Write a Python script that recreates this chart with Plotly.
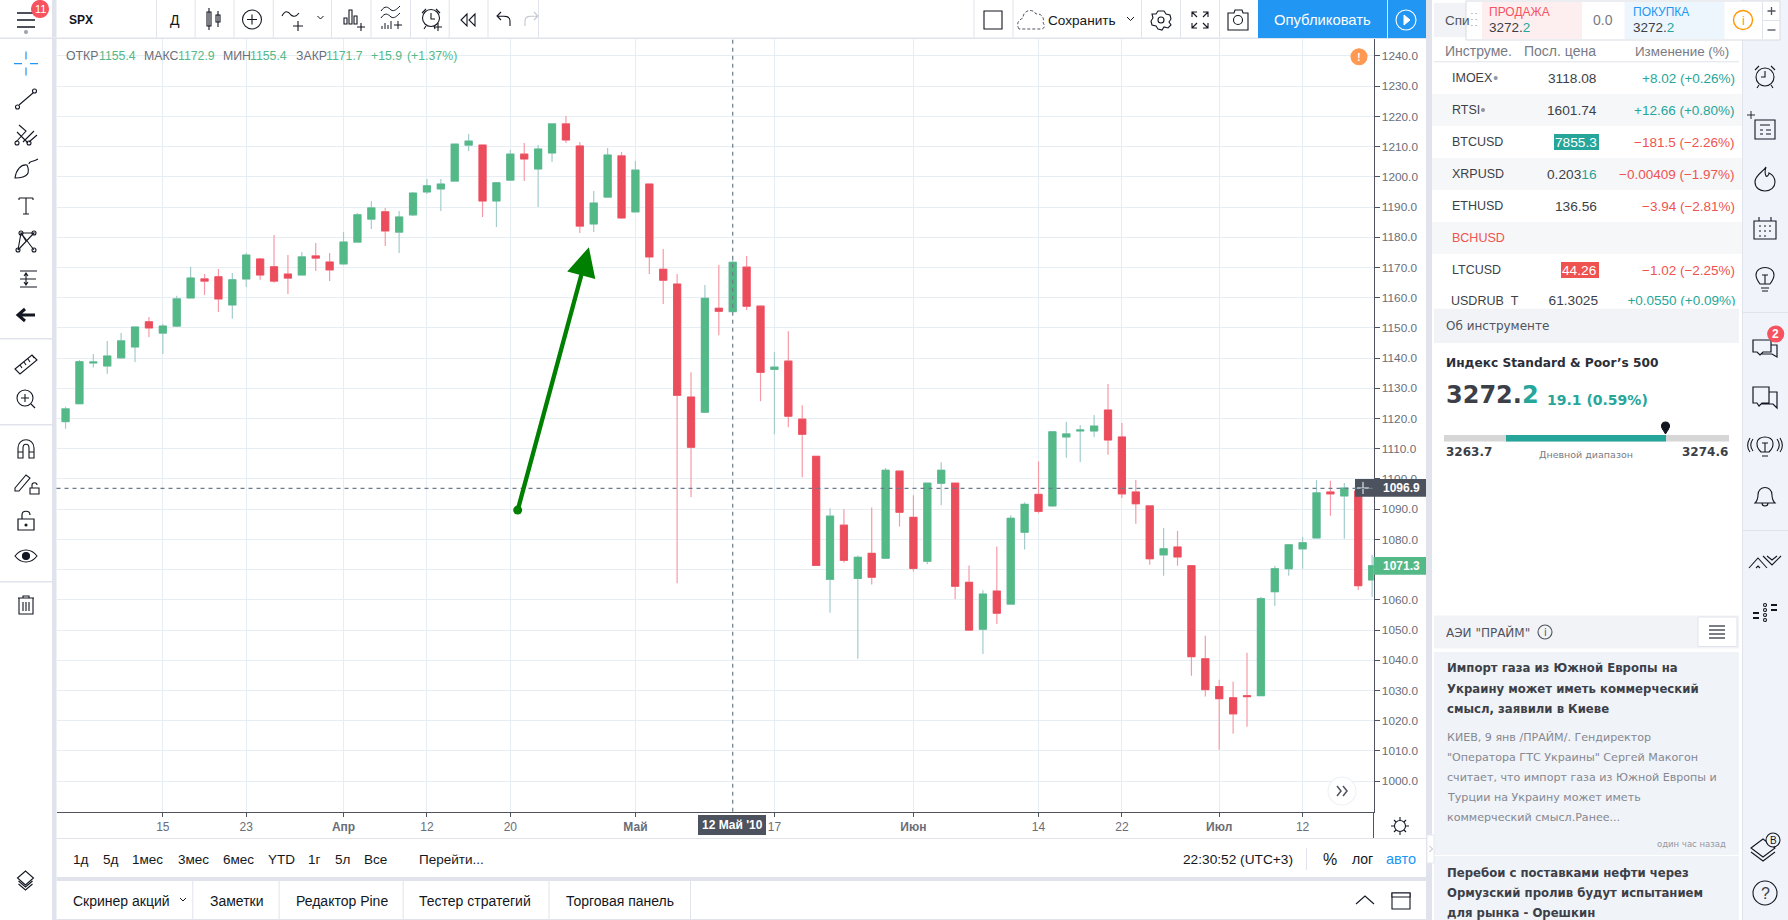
import re
import plotly.graph_objects as go

dates = [
    "2010-03-04", "2010-03-05", "2010-03-08", "2010-03-09", "2010-03-10", "2010-03-11", "2010-03-12", "2010-03-15",
    "2010-03-16", "2010-03-17", "2010-03-18", "2010-03-19", "2010-03-22", "2010-03-23", "2010-03-24", "2010-03-25",
    "2010-03-26", "2010-03-29", "2010-03-30", "2010-03-31", "2010-04-01", "2010-04-05", "2010-04-06", "2010-04-07",
    "2010-04-08", "2010-04-09", "2010-04-12", "2010-04-13", "2010-04-14", "2010-04-15", "2010-04-16", "2010-04-19",
    "2010-04-20", "2010-04-21", "2010-04-22", "2010-04-23", "2010-04-26", "2010-04-27", "2010-04-28", "2010-04-29",
    "2010-04-30", "2010-05-03", "2010-05-04", "2010-05-05", "2010-05-06", "2010-05-07", "2010-05-10", "2010-05-11",
    "2010-05-12", "2010-05-13", "2010-05-14", "2010-05-17", "2010-05-18", "2010-05-19", "2010-05-20", "2010-05-21",
    "2010-05-24", "2010-05-25", "2010-05-26", "2010-05-27", "2010-05-28", "2010-06-01", "2010-06-02", "2010-06-03",
    "2010-06-04", "2010-06-07", "2010-06-08", "2010-06-09", "2010-06-10", "2010-06-11", "2010-06-14", "2010-06-15",
    "2010-06-16", "2010-06-17", "2010-06-18", "2010-06-21", "2010-06-22", "2010-06-23", "2010-06-24", "2010-06-25",
    "2010-06-28", "2010-06-29", "2010-06-30", "2010-07-01", "2010-07-02", "2010-07-06", "2010-07-07", "2010-07-08",
    "2010-07-09", "2010-07-12", "2010-07-13", "2010-07-14", "2010-07-15", "2010-07-16", "2010-07-19",
]
opens = [
    1119.0, 1124.9, 1138.4, 1137.4, 1140.1, 1143.7, 1152.0, 1148.3, 1150.6, 1159.9, 1166.2, 1166.9, 1157.6, 1166.2,
    1172.8, 1170.2, 1167.8, 1167.5, 1173.8, 1171.8, 1171.2, 1178.4, 1186.0, 1188.4, 1181.7, 1187.4, 1195.0, 1196.0,
    1198.6, 1210.5, 1210.5, 1192.0, 1198.9, 1207.5, 1202.6, 1207.9, 1217.5, 1210.2, 1184.4, 1193.3, 1206.9, 1188.4,
    1197.6, 1169.4, 1164.5, 1127.1, 1122.1, 1156.5, 1155.4, 1170.1, 1157.2, 1136.3, 1139.0, 1119.8, 1107.5, 1066.8,
    1084.7, 1067.1, 1075.4, 1073.8, 1102.6, 1087.3, 1072.8, 1098.6, 1098.6, 1065.8, 1050.3, 1062.9, 1058.6, 1082.4,
    1094.9, 1091.1, 1113.9, 1115.9, 1115.9, 1122.8, 1113.9, 1095.7, 1091.1, 1074.9, 1077.5, 1071.3, 1040.5, 1031.3,
    1027.6, 1028.3, 1028.3, 1062.7, 1070.3, 1076.9, 1080.5, 1095.7, 1094.4, 1096.0, 1066.6,
]
highs = [
    1123.9, 1139.4, 1141.4, 1145.7, 1148.3, 1150.3, 1153.6, 1151.3, 1160.6, 1170.2, 1167.8, 1169.5, 1168.2, 1174.8,
    1173.1, 1180.7, 1174.1, 1175.1, 1178.1, 1174.8, 1181.7, 1188.0, 1192.0, 1189.7, 1188.7, 1195.0, 1199.3, 1199.3,
    1210.8, 1214.2, 1210.5, 1198.0, 1208.9, 1211.2, 1210.5, 1217.5, 1220.1, 1211.5, 1195.3, 1209.5, 1208.2, 1205.2,
    1197.6, 1176.1, 1167.8, 1135.3, 1164.2, 1170.8, 1172.9, 1173.8, 1157.2, 1142.0, 1148.9, 1124.4, 1107.5, 1090.3,
    1090.0, 1074.7, 1090.6, 1103.6, 1102.6, 1094.6, 1098.6, 1105.5, 1098.6, 1071.4, 1063.2, 1077.7, 1088.0, 1092.3,
    1105.9, 1115.6, 1118.9, 1117.9, 1121.2, 1131.4, 1118.5, 1099.7, 1091.1, 1083.8, 1082.8, 1071.3, 1048.1, 1033.6,
    1032.9, 1042.5, 1061.0, 1071.3, 1078.2, 1080.9, 1099.7, 1099.4, 1098.7, 1096.0, 1074.9,
]
lows = [
    1116.6, 1124.9, 1136.9, 1134.8, 1139.7, 1138.7, 1147.0, 1141.4, 1150.3, 1159.9, 1160.9, 1155.3, 1153.0, 1163.5,
    1165.9, 1164.9, 1161.2, 1167.5, 1168.8, 1165.5, 1170.8, 1178.4, 1182.7, 1177.1, 1174.8, 1187.0, 1194.3, 1188.7,
    1198.6, 1208.5, 1186.7, 1183.4, 1198.9, 1198.6, 1190.0, 1204.9, 1211.2, 1181.4, 1181.7, 1193.0, 1186.0, 1188.4,
    1167.8, 1157.9, 1065.5, 1094.0, 1122.1, 1147.6, 1155.4, 1155.9, 1125.7, 1114.8, 1117.1, 1100.6, 1071.4, 1055.7,
    1072.4, 1040.5, 1065.1, 1073.8, 1084.3, 1069.4, 1071.8, 1091.3, 1060.2, 1049.7, 1042.1, 1052.0, 1058.6, 1076.7,
    1088.7, 1090.8, 1107.0, 1105.6, 1113.9, 1108.0, 1093.7, 1085.2, 1071.6, 1068.0, 1071.3, 1034.9, 1028.0, 1010.4,
    1015.7, 1018.0, 1028.3, 1058.0, 1068.0, 1070.3, 1080.5, 1087.8, 1080.2, 1063.3, 1061.0,
]
closes = [
    1123.2, 1138.8, 1138.7, 1140.7, 1145.7, 1150.3, 1150.0, 1150.6, 1159.6, 1166.5, 1165.5, 1159.6, 1165.9, 1174.1,
    1167.5, 1165.5, 1166.5, 1173.5, 1173.1, 1169.2, 1178.4, 1187.4, 1189.7, 1182.1, 1186.7, 1194.6, 1197.0, 1197.6,
    1210.8, 1211.8, 1192.0, 1198.0, 1207.5, 1205.9, 1209.2, 1217.5, 1212.2, 1183.7, 1191.3, 1207.2, 1186.4, 1202.2,
    1173.5, 1165.8, 1127.7, 1110.5, 1159.8, 1155.5, 1171.7, 1157.2, 1135.3, 1137.0, 1120.8, 1114.8, 1071.4, 1087.7,
    1073.1, 1074.1, 1067.5, 1102.9, 1089.0, 1070.4, 1098.6, 1102.9, 1064.5, 1050.0, 1061.9, 1055.6, 1087.0, 1091.6,
    1089.3, 1115.6, 1114.9, 1116.2, 1117.5, 1112.9, 1095.1, 1091.8, 1073.6, 1076.9, 1074.2, 1041.2, 1030.3, 1027.3,
    1022.3, 1028.0, 1060.4, 1070.3, 1078.2, 1078.9, 1095.4, 1095.1, 1097.0, 1064.7, 1071.3,
]

price_ticks = [1000, 1010, 1020, 1030, 1040, 1050, 1060, 1070, 1080, 1090, 1100, 1110, 1120, 1130, 1140,
               1150, 1160, 1170, 1180, 1190, 1200, 1210, 1220, 1230, 1240]
time_tick_dates = ["2010-03-15", "2010-03-23", "2010-04-01", "2010-04-12", "2010-04-20", "2010-05-03",
                   "2010-05-17", "2010-06-01", "2010-06-14", "2010-06-22", "2010-07-01", "2010-07-12"]
time_tick_text = ["15", "23", "<b>Апр</b>", "12", "20", "<b>Май</b>", "17", "<b>Июн</b>", "14", "22", "<b>Июл</b>", "12"]

cross_date = "2010-05-12"
cross_price = 1096.9
last_price = 1071.3
arrow_start = (32.53, 1089.7)
arrow_tip = (37.65, 1176.7)

watch_names = ["IMOEX", "RTSI", "BTCUSD", "XRPUSD", "ETHUSD", "BCHUSD", "LTCUSD"]
watch_prices = ["3118.08", "1601.74", "7855.3", "0.20316", "136.56", "", "44.26"]
watch_changes = ["+8.02 (+0.26%)", "+12.66 (+0.80%)", "−181.5 (−2.26%)", "−0.00409 (−1.97%)", "−3.94 (−2.81%)", "", "−1.02 (−2.25%)"]
clipped_row = ["USDRUB_T", "61.3025", "+0.0550 (+0.09%)"]

NARROW = "Liberation Sans, Arial"
WIDE = "DejaVu Sans, Verdana"
INK = "#131722"
GRAY = "#787b86"
LINE = "#e0e3eb"
GREEN = "#26a69a"
RED = "#ef5350"
UP = "#53b987"
DOWN = "#eb4d5c"
PANEL = "#f1f3f6"

shapes = []
notes = []


def box(x0, y0, x1, y1, fill, line=None, w=1):
    shapes.append(dict(type="rect", xref="x2", yref="y2", x0=x0, y0=y0, x1=x1, y1=y1, fillcolor=fill,
                       line=dict(color=line or fill, width=w if line else 0), layer="above"))


def circ(cx, cy, r, line=INK, fill="rgba(0,0,0,0)", w=1.1):
    shapes.append(dict(type="circle", xref="x2", yref="y2", x0=cx - r, y0=cy - r, x1=cx + r, y1=cy + r,
                       fillcolor=fill, line=dict(color=line, width=w), layer="above"))


def ic(cx, cy, d, color=INK, w=1.1, fill="rgba(0,0,0,0)", dash="solid"):
    # move a small path drawn around 0,0 to its place on the page
    out, n = [], 0
    for tok in re.findall(r"[MLCQZ]|-?[\d.]+", d):
        if tok.isalpha():
            out.append(tok)
        else:
            out.append(str(float(tok) + (cx if n % 2 == 0 else cy)))
            n += 1
    shapes.append(dict(type="path", xref="x2", yref="y2", path=" ".join(out), fillcolor=fill,
                       line=dict(color=color, width=w, dash=dash), layer="above"))


def txt(x, y, s, size=12, color=INK, anchor="left", font=NARROW):
    notes.append(dict(xref="x2", yref="y2", x=x, y=y, text=s, showarrow=False, xanchor=anchor, yanchor="middle",
                      borderpad=0, font=dict(family=font, size=size, color=color)))


# chart frame, gaps between the panels
box(0, 37.5, 1426, 39, LINE)
box(52, 39, 56.5, 920, LINE)
box(0, 338, 52, 339.5, LINE)
box(0, 424, 52, 425.5, LINE)
box(0, 581, 52, 582.5, LINE)
box(56.5, 838, 1426, 839, LINE)
box(56.5, 877, 1426, 881, LINE)
box(56.5, 919, 1426, 920, LINE)
box(1426, 0, 1432, 920, LINE)
box(1742.5, 0, 1788, 920, "#f0f3fa")
box(1742, 0, 1743, 920, LINE)
box(1743, 312, 1788, 313, LINE)
box(1743, 530, 1788, 531, LINE)

# top toolbar
for sx in [156, 194.6, 233.5, 272.8, 331, 370.5, 410, 448.7, 487.5, 538, 973.5, 1012.5, 1141, 1180, 1219]:
    box(sx, 0, sx + 1, 37.5, LINE)
box(52, 0, 56.5, 37.5, LINE)
ic(26, 20, "M-9 -7 L9 -7 M-9 0 L9 0 M-9 7 L9 7", w=1.6)
circ(40, 9, 8.5, "#f7525f", "#f7525f")
txt(40, 9, "11", 11, "white", "center")
circ(26, 32, 1.5, "#a0a3ad", "#a0a3ad")
txt(68, 19.5, "<b>SPX</b>", 12)
txt(175, 20, "Д", 14, INK, "center")
ic(214, 19, "M-5 -11 L-5 11 M4 -8 L4 8 M-7 -7 L-3 -7 L-3 7 L-7 7 Z M2 -4 L6 -4 L6 3 L2 3 Z")
circ(252, 19.5, 9.5)
ic(252, 19.5, "M-5 0 L5 0 M0 -5 L0 5")
ic(291, 19, "M-9 -3 C-6 -9 -3 -8 0 -4 C2 -2 5 -2 8 -6 M2 7 L12 7 M7 2 L7 12")
ic(320.5, 18, "M-3 -2 L0 1 L3 -2", w=1)
ic(353, 19, "M-9 5 L-9 -1 L-6 -1 L-6 5 Z M-4 5 L-4 -9 L-1 -9 L-1 5 Z M1 5 L1 -3 L4 -3 L4 5 Z M4 8 L12 8 M8 4 L8 12")
ic(391, 17, "M-10 -6 C-6 -12 -3 -10 0 -7 C3 -5 6 -8 9 -11 M-10 1 C-6 -5 -3 -3 0 0 C3 2 6 -1 9 -4 M-9 12 L-9 9 M-6 12 L-6 6 M-3 12 L-3 8 M0 12 L0 4 M3 8 L11 8 M7 4 L7 12", w=1)
circ(431, 18, 8.5)
ic(431, 18, "M0 -5 L0 1 L4 1 M-9 -5 L-5 -9 M9 -5 L5 -9 M-5 8 L-7 11 M3 8 L4 11 M3 9 L11 9 M7 5 L7 13")
ic(468, 20, "M-1 -6 L-7 0 L-1 6 Z M7 -6 L1 0 L7 6 Z")
ic(504, 19, "M6 7 L6 2 C6 -3 2 -3 -6 -3 M-3 -7 L-7 -3 L-3 1")
ic(531, 19, "M-6 7 L-6 2 C-6 -3 -2 -3 6 -3 M3 -7 L7 -3 L3 1", "#c5c8d0")

box(984, 11, 1002, 29, "white", INK, 1.1)
ic(1031, 20, "M-12 9 C-16 2 -10 -1 -8 -2 C-8 -10 2 -12 5 -6 C10 -7 14 -2 12 3 C14 5 14 8 11 9 Z", "#50535e", 1, dash="3px,2px")
txt(1047, 20, "Сохранить", 13.6)
ic(1130.5, 19, "M-3.5 -2 L0 1.5 L3.5 -2", w=1)
circ(1161, 20, 3)
ic(1161, 20, "M-3 -9 L3 -9 L5 -6 L9 -5 L10 -1 L8 2 L10 5 L7 8 L3 7 L1 10 L-3 9 L-5 6 L-9 5 L-10 1 L-8 -2 L-9 -6 L-5 -6 Z")
ic(1200, 20, "M-8 -3 L-8 -8 L-3 -8 M-8 -8 L-3 -3 M3 -8 L8 -8 L8 -3 M8 -8 L3 -3 M-8 3 L-8 8 L-3 8 M-8 8 L-3 3 M3 8 L8 8 L8 3 M8 8 L3 3")
ic(1238, 20, "M-10 -7 L-4 -7 L-3 -10 L4 -10 L5 -7 L10 -7 L10 10 L-10 10 Z")
circ(1238, 20, 4.5)
box(1258, 0, 1426, 38, "#2196f3")
box(1387, 0, 1388, 38, "#d3e9fc")
txt(1322.5, 20, "Опубликовать", 14.8, "white", "center")
circ(1406, 20, 10, "white")
ic(1406, 20, "M-2 -5 L4 0 L-2 5 Z", "white", 1, "white")

# left toolbar
ic(26, 63.6, "M-12 0 L-4 0 M4 0 L12 0 M0 -12 L0 -4 M0 4 L0 12", "#2196f3", 1.2)
ic(26, 99, "M-7 6 L7 -6")
circ(17.5, 107, 2)
circ(34.5, 91, 2)
ic(26, 135, "M-10 7 L0 -4 L-7 -10 M-9 -3 L2 8 M-3 7 L8 -4 M3 7 L11 0")
circ(17, 143, 2)
circ(29, 143, 2)
ic(26, 170, "M-11 8 C-10 0 -5 -6 1 -5 C4 2 3 8 -11 8 Z M3 -6 C3 -10 6 -7 12 -11")
ic(26, 206, "M-7 -8 L7 -8 M0 -8 L0 8 M-3 8 L3 8 M-7 -8 L-7 -6 M7 -8 L7 -6")
ic(26, 241, "M-8 9 L-5 -8 L8 9 M-8 9 L8 -8 L-5 -8 M-5 -8 L0 0")
circ(18, 250, 2)
circ(21, 233, 2)
circ(34, 233, 2)
circ(34, 250, 2)
ic(26, 279, "M-6 -8 L11 -8 M-6 0 L10 0 M-6 8 L11 8 M0 -6 L0 6 M-2 -3 L0 -6 L2 -3 M-2 3 L0 6 L2 3")
ic(26, 315, "M9 0 L-6 0 M-1 -6 L-8 0 L-1 6", INK, 3)
ic(26, 364, "M-11 5 L6 -9 L11 -4 L-6 10 Z M-6 1 L-4 4 M-2 -2 L0 1 M2 -5 L4 -2 M6 -9 L8 -6")
circ(25, 398, 8)
ic(25, 398, "M-4 0 L4 0 M0 -4 L0 4 M6 6 L10 10")
ic(26, 449, "M-8 9 L-8 -1 C-8 -12 8 -12 8 -1 L8 9 L3 9 L3 -1 C3 -6 -3 -6 -3 -1 L-3 9 Z M-8 3 L-3 3 M3 3 L8 3")
ic(23, 482, "M-8 6 L3 -7 L7 -4 L-4 9 L-8 9 Z")
ic(34, 488, "M-4 0 L5 0 L5 6 L-4 6 Z M-2 0 L-2 -3 C-2 -6 3 -6 3 -3")
ic(26, 521, "M-8 -2 L8 -2 L8 9 L-8 9 Z M-4 -2 L-4 -6 C-4 -11 4 -11 4 -6", w=1.2)
circ(26, 525, 1, INK, INK)
ic(26, 556, "M-11 0 C-5 -8 5 -8 11 0 C5 8 -5 8 -11 0 Z")
circ(26, 556, 3.5, INK, INK)
ic(26, 605, "M-8 -7 L8 -7 M-3 -7 L-3 -9 L3 -9 L3 -7 M-7 -7 L-7 9 L7 9 L7 -7 M-3 -3 L-3 6 M0 -3 L0 6 M3 -3 L3 6")
ic(25.5, 880, "M-8 -2 L0 -9 L8 -2 L0 5 Z M-7 1 L0 7 L7 1 M-7 4 L0 10 L7 4")

# legend over the chart
txt(65, 56, "ОТКР", 12.3, "#6a6d78")
txt(98, 56, "1155.4", 12.3, UP)
txt(143, 56, "МАКС", 12.3, "#6a6d78")
txt(177, 56, "1172.9", 12.3, UP)
txt(222, 56, "МИН", 12.3, "#6a6d78")
txt(249, 56, "1155.4", 12.3, UP)
txt(294.6, 56, "ЗАКР", 12.3, "#6a6d78")
txt(325, 56, "1171.7", 12.3, UP)
txt(369.6, 56, "+15.9", 12.3, UP)
txt(406, 56, "(+1.37%)", 12.3, UP)
circ(1359, 56.7, 8, "#ff9850", "#ff9850")
txt(1359, 56.7, "<b>!</b>", 11, "white", "center")
circ(1342, 791, 14, "#eef0f4", "white")
ic(1342, 791, "M-5 -5 L-1 0 L-5 5 M1 -5 L5 0 L1 5", "#50535e", 1.5)

# price and time labels
box(1355, 479, 1426, 496.7, "#4c525e")
ic(1363, 488, "M-6 0 L6 0 M0 -6 L0 6", "white", 1)
txt(1382, 488, "<b>1096.9</b>", 12, "white")
box(1373.5, 557, 1426, 574.7, UP)
txt(1382, 566, "<b>1071.3</b>", 12, "white")
box(698, 815, 766, 835, "#4c525e")
txt(732.5, 825, "<b>12 Май '10</b>", 12, "white", "center")
box(1373, 812, 1374, 838, "#50535e")
circ(1400, 826, 5.5, INK)
ic(1400, 826, "M-9 0 L-6 0 M6 0 L9 0 M0 -9 L0 -6 M0 6 L0 9 M-6 -6 L-4 -4 M6 -6 L4 -4 M-6 6 L-4 4 M6 6 L4 4")

# range bar
for rx, rs in zip([71.5, 101.5, 131, 177, 222, 267, 307, 334, 363, 418],
                  ["1д", "5д", "1мес", "3мес", "6мес", "YTD", "1г", "5л", "Все", "Перейти..."]):
    txt(rx, 859, rs, 13.5)
txt(1181.6, 859, "22:30:52 (UTC+3)", 13.7)
box(1306, 848, 1307, 870, LINE)
txt(1330, 859, "%", 16, INK, "center")
txt(1362.5, 859, "лог", 14, INK, "center")
txt(1400.8, 859, "авто", 14.5, "#2196f3", "center")

# bottom tabs
for tx, ts in zip([72, 209, 295.4, 418, 565],
                  ["Скринер акций", "Заметки", "Редактор Pine", "Тестер стратегий", "Торговая панель"]):
    txt(tx, 900.7, ts, 14)
for sx in [192.3, 278.6, 402.6, 548.5, 690]:
    box(sx, 881, sx + 1, 919, LINE)
ic(183, 900, "M-3 -2 L0 1 L3 -2", w=1)
ic(1365, 900, "M-9 4 L0 -4 L9 4", w=1.1)
box(1392, 893, 1410, 909, "white", INK, 1.1)
box(1392, 893, 1410, 897, "white", INK, 1.1)

# watchlist
box(1434, 3, 1739, 37, PANEL)
txt(1443.5, 20, "Спи", 13.5, "#50535e")
txt(1444, 51, "Инструме.", 14, GRAY)
txt(1523, 51, "Посл. цена", 14, GRAY)
txt(1730, 51, "Изменение (%)", 13.4, GRAY, "right")
box(1434, 61.3, 1739, 62.3, LINE)
for i, name in enumerate(watch_names):
    ry = 78 + 32 * i
    if i % 2 == 1:
        box(1432, ry - 16, 1742, ry + 16, "#f6f7f9")
for i, name in enumerate(watch_names):
    ry = 78 + 32 * i
    txt(1451, ry, name, 12.5, RED if name == "BCHUSD" else "#3c3f48")
    if name == "BTCUSD":
        box(1554, ry - 8, 1599, ry + 8, GREEN)
    if name == "LTCUSD":
        box(1561, ry - 8, 1599, ry + 8, RED)
    pcolor = "white" if name in ("BTCUSD", "LTCUSD") else "#3c3f48"
    ptext = watch_prices[i]
    if name == "XRPUSD":
        ptext = ptext[:-2] + f"<span style='color:{GREEN}'>{ptext[-2:]}</span>"
    txt(1598, ry, ptext, 13.7, pcolor, "right")
    ccolor = GREEN if watch_changes[i].startswith("+") else RED
    txt(1735.5, ry, watch_changes[i], 13.5, ccolor, "right")
circ(1495.7, 78, 1.5, "#9598a1", "#9598a1")
circ(1483, 110, 1.5, "#9598a1", "#9598a1")

# the clipped last row is covered by the panel under it
box(1432, 305.7, 1742, 309, "white")
box(1434, 308.7, 1739, 343, PANEL)

# floating buy/sell widget
box(1466, 1, 1780, 40, "white", "#d8dbe2", 1)
box(1482, 2, 1582, 39, "#fdeff0")
box(1624.5, 2, 1724.4, 39, "#eef6fd")
ic(1474, 20, "M-2 -7 L-2 -6 M2 -7 L2 -6 M-2 -1 L-2 0 M2 -1 L2 0 M-2 5 L-2 6 M2 5 L2 6", "#b2b5be", 1.6)
txt(1488, 12, "ПРОДАЖА", 12, "#f7525f")
txt(1488, 27.5, "3272.<span style='color:%s'>2</span>" % GREEN, 13.5, "#3c3f48")
txt(1603, 20, "0.0", 14, GRAY, "center")
txt(1632, 12, "ПОКУПКА", 12, "#2196f3")
txt(1632, 27.5, "3272.<span style='color:%s'>2</span>" % GREEN, 13.5, "#3c3f48")
circ(1743, 20, 9.5, "#ff9800", "white", 1.4)
txt(1743, 20, "i", 13, "#ff9800", "center")
box(1762, 2, 1763, 39, LINE)
ic(1771.5, 11, "M-4 0 L4 0 M0 -4 L0 4", "#50535e", 1.3)
ic(1771.5, 30, "M-4 0 L4 0", "#50535e", 1.3)
box(1763, 20, 1780, 21, LINE)

# symbol panel
txt(1445, 326, "Об инструменте", 12, "#50535e", font=WIDE)
txt(1445, 363, "<b>Индекс Standard & Poor’s 500</b>", 12.2, "#2a2e39", font=WIDE)
txt(1445, 395, "<b>3272.<span style='color:%s'>2</span></b>" % GREEN, 24, "#3c3f48", font=WIDE)
txt(1546, 399.5, "<b>19.1 (0.59%)</b>", 14, GREEN, font=WIDE)
box(1444, 435, 1729, 441.5, "#d6d6d6")
box(1506, 435, 1666, 441.5, GREEN)
circ(1665.5, 426, 4, "#131722", "#131722")
ic(1665.5, 429, "M-3 0 L0 5 L3 0 Z", "#131722", 1, "#131722")
txt(1445, 452, "<b>3263.7</b>", 12, "#3c3f48", font=WIDE)
txt(1586, 454, "Дневной диапазон", 9.5, GRAY, "center", font=WIDE)
txt(1729, 452, "<b>3274.6</b>", 12, "#3c3f48", "right", font=WIDE)

# news feed
box(1434, 615.5, 1739, 648.5, PANEL)
txt(1445, 632, "АЭИ \"ПРАЙМ\"", 12, "#50535e", font=WIDE)
circ(1545, 632, 7, "#50535e")
txt(1545, 632, "i", 10, "#50535e", "center", font=WIDE)
box(1698, 617, 1737, 646.5, "white", LINE, 1)
ic(1717, 632, "M-8 -6 L8 -6 M-8 -2 L8 -2 M-8 2 L8 2 M-8 6 L8 6", "#50535e", 1.4)
box(1434, 652, 1739, 855, "#f0f3f7")
box(1434, 856, 1739, 920, "#f0f3f7")
for ny, ns in zip([668, 688.6, 708.5], ["Импорт газа из Южной Европы на", "Украину может иметь коммерческий", "смысл, заявили в Киеве"]):
    txt(1446, ny, f"<b>{ns}</b>", 11.7, "#3c3f48", font=WIDE)
for ny, ns in zip([737, 757, 777, 797, 817],
                  ["КИЕВ, 9 янв /ПРАЙМ/. Гендиректор", "\"Оператора ГТС Украины\" Сергей Макогон",
                   "считает, что импорт газа из Южной Европы и", "Турции на Украину может иметь",
                   "коммерческий смысл.Ранее..."]):
    txt(1446, ny, ns, 11.1, "#858892", font=WIDE)
txt(1727, 844, "один час назад", 8.5, "#9598a1", "right", font=WIDE)
for ny, ns in zip([872.6, 892.6, 912.6], ["Перебои с поставками нефти через", "Ормузский пролив будут испытанием", "для рынка - Орешкин"]):
    txt(1446, ny, f"<b>{ns}</b>", 11.7, "#3c3f48", font=WIDE)
box(1427, 835, 1434, 863, "white", "#e6e8ee", 1)
ic(1431, 849, "M-1.5 -3 L1.5 0 L-1.5 3", "#b2b5be", 1)

# right icon column
circ(1765, 77, 9)
ic(1765, 77, "M0 -6 L0 0 L-4 0 M-10 -7 L-6 -11 M10 -7 L6 -11 M-6 8 L-8 11 M6 8 L8 11")
ic(1765, 128, "M-10 -8 L10 -8 L10 11 L-10 11 Z M-5 -3 L5 -3 M-5 2 L-2 2 M1 2 L6 2 M-5 6 L-2 6 M1 6 L6 6")
ic(1751, 115, "M-4 0 L4 0 M0 -4 L0 4", w=0.9)
ic(1765, 179, "M1 -12 C-2 -7 -10 -4 -10 3 C-10 9 -5 12 0 12 C6 12 10 8 10 3 C10 -3 6 -5 4 -6 C4 -4 2 -2 1 -3 C0 -5 0 -9 1 -12 Z")
ic(1765, 228, "M-11 -7 L11 -7 L11 11 L-11 11 Z M-6 -11 L-6 -7 M6 -11 L6 -7 M-6 -2 L-4 -2 M-1 -2 L1 -2 M4 -2 L6 -2 M-6 3 L-4 3 M-1 3 L1 3 M4 3 L6 3 M-6 8 L-4 8 M-1 8 L1 8")
ic(1765, 278, "M-5 6 C-8 2 -9 0 -9 -3 C-9 -13 9 -13 9 -3 C9 0 8 2 5 6 Z M-4 10 L4 10 M-3 13 L3 13 M0 6 L0 -3 M-3 -3 L3 -3")
chat = "M-12 -6 L6 -6 L6 6 L-2 6 L-5 9 L-8 6 L-12 6 Z M6 -1 L12 -1 L12 11 L7 8 L-4 8"
ic(1765, 346, chat, w=1.2)
circ(1775.7, 334, 8, "#f7525f", "#f7525f")
txt(1775.7, 334, "<b>2</b>", 12, "white", "center")
ic(1765, 396, "M-12 -9 L4 -9 L4 7 L-3 7 L-6 10 L-8 7 L-12 7 Z M4 -4 L12 -4 L12 12 L8 8 L-4 8", w=1.2)
ic(1765, 446, "M-4 6 C-8 2 -8 0 -8 -3 C-8 -11 8 -11 8 -3 C8 0 8 2 4 6 Z M-3 10 L3 10 M0 6 L0 -3 M-3 -3 L3 -3 M-12 -7 C-15 -3 -15 1 -12 5 M12 -7 C15 -3 15 1 12 5 M-15 -8 C-18 -3 -18 2 -15 6 M15 -8 C18 -3 18 2 15 6")
ic(1765, 497, "M-10 6 L10 6 C7 3 7 0 7 -2 C7 -12 -7 -12 -7 -2 C-7 0 -7 3 -10 6 Z M-3 6 C-3 10 3 10 3 6")
ic(1765, 562, "M-16 6 L-7 -4 L2 6 M-9 6 L-7 4 L-5 6 M-2 -6 L7 3 L16 -6 M2 -6 L7 -2 L12 -6", w=1.1)
ic(1765, 613, "M-12 0 L-6 0 M-12 5 L-6 5 M6 -8 L12 -8 M6 -3 L12 -3", w=2)
for dx, dy in [(0, -8), (0, -3), (0, 2), (0, 7)]:
    circ(1765 + dx, 613 + dy, 1.5)
ic(1763, 848, "M-12 0 L0 -9 L12 0 L0 9 Z M-12 4 L0 13 L12 4")
circ(1773, 840, 7, INK, "#f0f3fa")
txt(1773, 840, "B", 10, INK, "center")
circ(1765, 893, 12)
txt(1765, 893, "?", 16, "#3c3f48", "center")

# cross lines and the drawn arrow live on the chart's own axes
crosshair = dict(color="#6b7c8d", width=1.2, dash="4px,4px")
shapes.append(dict(type="line", xref="x", yref="paper", x0=cross_date, x1=cross_date, y0=1 - 811.7 / 920, y1=1 - 39 / 920,
                   line=crosshair, layer="above"))
shapes.append(dict(type="line", xref="paper", yref="y", x0=56.5 / 1788, x1=1373.5 / 1788, y0=cross_price, y1=cross_price,
                   line=crosshair, layer="above"))
shapes.append(dict(type="circle", xref="x", yref="y", xsizemode="pixel", ysizemode="pixel",
                   xanchor=arrow_start[0], yanchor=arrow_start[1], x0=-4.5, x1=4.5, y0=-4.5, y1=4.5,
                   fillcolor="#008000", line=dict(width=0), layer="above"))
notes.append(dict(xref="x", yref="y", axref="x", ayref="y", x=arrow_tip[0], y=arrow_tip[1],
                  ax=arrow_start[0], ay=arrow_start[1], text="", showarrow=True, arrowhead=2, arrowsize=1.35,
                  arrowwidth=4.3, arrowcolor="#008000", standoff=0))

fig = go.Figure()

# wick layer and body layer, the two have different colours in the original
fig.add_trace(go.Candlestick(
    x=dates, open=opens, high=highs, low=lows, close=closes,
    increasing=dict(line=dict(color="#a3cccd", width=1.2), fillcolor=UP),
    decreasing=dict(line=dict(color="#f79aa7", width=1.2), fillcolor=DOWN),
    whiskerwidth=0, hoverinfo="skip", showlegend=False))
fig.add_trace(go.Candlestick(
    x=dates, open=opens, close=closes,
    high=[max(o, c) for o, c in zip(opens, closes)],
    low=[min(o, c) for o, c in zip(opens, closes)],
    increasing=dict(line=dict(color=UP, width=0.8), fillcolor=UP),
    decreasing=dict(line=dict(color=DOWN, width=0.8), fillcolor=DOWN),
    whiskerwidth=0, hoverinfo="skip", showlegend=False))

# last watchlist row, a trace so that the panel below can cover its lower edge
fig.add_trace(go.Scatter(
    x=[1451, 1598, 1735.5], y=[302, 302, 302], xaxis="x2", yaxis="y2", mode="text",
    text=clipped_row, textposition=["middle right", "middle left", "middle left"],
    textfont=dict(family=NARROW, size=[12.5, 13.7, 13.5], color=["#3c3f48", "#3c3f48", GREEN]),
    hoverinfo="skip", showlegend=False))

fig.update_layout(
    width=1788, height=920, autosize=False,
    margin=dict(l=0, r=0, t=0, b=0),
    paper_bgcolor="white", plot_bgcolor="rgba(0,0,0,0)",
    font=dict(family=NARROW),
    showlegend=False, dragmode=False, boxgap=0.27,
    xaxis=dict(
        type="category", domain=[56.5 / 1788, 1373.5 / 1788], range=[-0.65, 94.1], anchor="y",
        categoryorder="array", categoryarray=dates,
        tickmode="array", tickvals=time_tick_dates, ticktext=time_tick_text, tickangle=0,
        tickfont=dict(family=NARROW, size=12, color="#6a6d78"),
        ticks="outside", ticklen=4, tickcolor="#50535e",
        showline=True, linecolor="#50535e", linewidth=1,
        showgrid=True, gridcolor="#e6eef3", gridwidth=1, zeroline=False,
        rangeslider=dict(visible=False), fixedrange=True),
    yaxis=dict(
        domain=[1 - 811.7 / 920, 1 - 39 / 920], range=[989.9, 1245.6], side="right", anchor="x",
        tickmode="array", tickvals=price_ticks, tickformat=".1f",
        tickfont=dict(family=NARROW, size=11.8, color="#6a6d78"),
        ticks="outside", ticklen=5, tickcolor="#50535e",
        showline=True, linecolor="#50535e", linewidth=1,
        showgrid=True, gridcolor="#e6eef3", gridwidth=1, zeroline=False, fixedrange=True),
    xaxis2=dict(domain=[0, 1], range=[0, 1788], anchor="y2", visible=False, fixedrange=True),
    yaxis2=dict(domain=[0, 1], range=[920, 0], anchor="x2", visible=False, fixedrange=True),
    shapes=shapes, annotations=notes)

fig.write_html("out.html", config=dict(displayModeBar=False),
               post_script="document.body.style.margin='0';document.body.style.overflow='hidden';")
